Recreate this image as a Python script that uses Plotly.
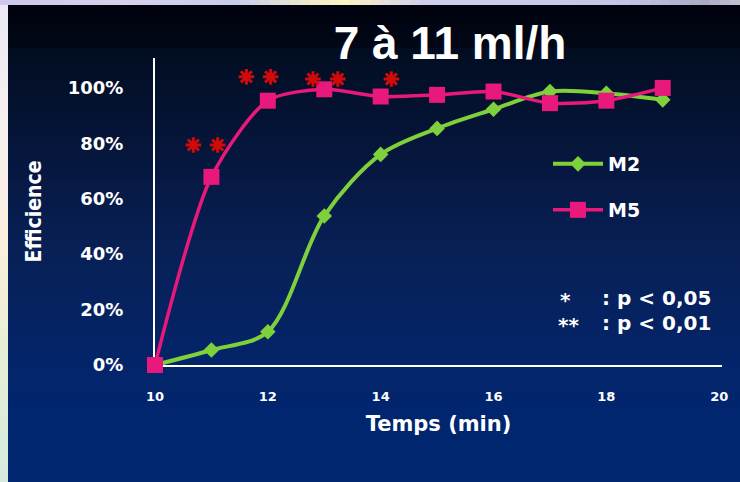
import plotly.graph_objects as go

# Efficiency over time for two methods (flow rate 7 to 11 ml/h)
temps_min = [10, 11, 12, 13, 14, 15, 16, 17, 18, 19]
m2_efficience = [0.0, 0.054, 0.12, 0.538, 0.76, 0.854, 0.923, 0.987, 0.981, 0.957]
m5_efficience = [0.0, 0.679, 0.954, 0.995, 0.969, 0.975, 0.987, 0.945, 0.954, 1.0]

# Significance asterisks (time, height)
sig_x = [10.68, 11.11, 11.62, 12.05, 12.8, 13.24, 14.19]
sig_y = [0.794, 0.794, 1.04, 1.04, 1.032, 1.032, 1.032]

x_ticks = [10, 12, 14, 16, 18, 20]
y_ticks = [0, 0.2, 0.4, 0.6, 0.8, 1.0]

W, H = 740, 482
GREEN = "#7fd13b"
PINK = "#e8197a"
STAR_RED = "#d10a0a"
BOLD_FONT = "DejaVu Sans"
NARROW_FONT = "Liberation Sans Narrow, DejaVu Sans Condensed, Roboto Condensed, Liberation Sans"


def px(x):
    return x / W


def py(y):
    return 1 - y / H


def lerp(c1, c2, t):
    return tuple(round(a + (b - a) * t) for a, b in zip(c1, c2))


def rgb(c):
    return "rgb(%d,%d,%d)" % c


shapes = []

# Dark header band
top_stops = [(5, (0, 3, 14)), (48, (2, 8, 24))]
# Main vertical gradient of the panel
stops = [(48, (2, 13, 33)), (150, (6, 22, 60)), (250, (8, 32, 86)),
         (350, (4, 36, 104)), (420, (0, 38, 112)), (482, (0, 38, 112))]


def add_gradient(stop_list, x0, x1, step=3):
    for (ya, ca), (yb, cb) in zip(stop_list[:-1], stop_list[1:]):
        y = ya
        while y < yb:
            y2 = min(y + step, yb)
            c = lerp(ca, cb, (y - ya) / (yb - ya))
            shapes.append(dict(type="rect", xref="paper", yref="paper",
                               x0=px(x0), x1=px(x1), y0=py(y2), y1=py(y),
                               fillcolor=rgb(c), line=dict(width=0), layer="below"))
            y = y2


add_gradient(top_stops, 8, W, step=4)
add_gradient(stops, 8, W, step=3)

# Light slide border on the left and the top
left_stops = [(0, (236, 232, 244)), (120, (246, 240, 240)), (250, (252, 238, 218)),
              (340, (232, 238, 214)), (482, (212, 234, 222))]
add_gradient(left_stops, 0, 8, step=6)
top_strip = [(0, (205, 200, 236)), (120, (214, 210, 236)), (230, (200, 204, 236)),
             (300, (236, 232, 206)), (340, (250, 244, 196)), (420, (208, 206, 236)),
             (620, (196, 196, 232)), (700, (170, 170, 196)), (740, (200, 198, 214))]
for (xa, ca), (xb, cb) in zip(top_strip[:-1], top_strip[1:]):
    x = xa
    while x < xb:
        x2 = min(x + 10, xb)
        c = lerp(ca, cb, (x - xa) / (xb - xa))
        shapes.append(dict(type="rect", xref="paper", yref="paper",
                           x0=px(x), x1=px(x2), y0=py(5), y1=1,
                           fillcolor=rgb(c), line=dict(width=0), layer="below"))
        x = x2

fig = go.Figure()

fig.add_trace(go.Scatter(
    x=temps_min, y=m2_efficience, name="M2", mode="lines+markers",
    line=dict(color=GREEN, width=4, shape="spline", smoothing=0.9),
    marker=dict(symbol="diamond", size=12, color=GREEN),
    legend="legend", cliponaxis=False,
))
fig.add_trace(go.Scatter(
    x=temps_min, y=m5_efficience, name="M5", mode="lines+markers",
    line=dict(color=PINK, width=3.5, shape="spline", smoothing=0.75),
    marker=dict(symbol="square", size=16, color=PINK),
    legend="legend2", cliponaxis=False,
))
fig.add_trace(go.Scatter(
    x=sig_x, y=sig_y, mode="markers", showlegend=False, hoverinfo="skip",
    cliponaxis=False,
    marker=dict(symbol="asterisk-open", size=13, color=STAR_RED,
                line=dict(color=STAR_RED, width=3)),
))

note_font = dict(family=BOLD_FONT, size=20, color="white", weight="bold")
annotations = [
    dict(text="*", x=px(558), y=py(300), xref="paper", yref="paper",
         xanchor="left", yanchor="middle", showarrow=False, font=note_font),
    dict(text=": p < 0,05", x=px(600), y=py(298), xref="paper", yref="paper",
         xanchor="left", yanchor="middle", showarrow=False, font=note_font),
    dict(text="**", x=px(556), y=py(325), xref="paper", yref="paper",
         xanchor="left", yanchor="middle", showarrow=False, font=note_font),
    dict(text=": p < 0,01", x=px(600), y=py(323), xref="paper", yref="paper",
         xanchor="left", yanchor="middle", showarrow=False, font=note_font),
]

legend_common = dict(
    xref="paper", yref="paper", xanchor="left", yanchor="middle",
    bgcolor="rgba(0,0,0,0)", borderwidth=0,
    font=dict(family=BOLD_FONT, size=19, color="white", weight="bold"),
    itemwidth=50,
)

fig.update_layout(
    width=W, height=H,
    margin=dict(l=0, r=0, t=0, b=0),
    paper_bgcolor=rgb((0, 38, 112)),
    plot_bgcolor="rgba(0,0,0,0)",
    shapes=shapes,
    annotations=annotations,
    title=dict(text="<b>7 à 11 ml/h</b>", x=px(450), y=py(43),
               xref="paper", yref="paper", xanchor="center", yanchor="middle",
               font=dict(family="Liberation Sans", size=46, color="white")),
    legend=dict(x=px(548), y=py(164), **legend_common),
    legend2=dict(x=px(548), y=py(210), **legend_common),
    xaxis=dict(
        domain=[px(155), px(722)], range=[10, 20.05],
        tickvals=x_ticks, ticktext=[str(v) for v in x_ticks],
        showgrid=False, zeroline=False, showline=True, linecolor="white",
        linewidth=2, ticks="", layer="below traces", ticklabelstandoff=18,
        tickfont=dict(family=BOLD_FONT, size=13, color="white", weight="bold"),
        title=dict(text="Temps (min)", standoff=14,
                   font=dict(family=BOLD_FONT, size=21, color="white",
                             weight="bold")),
        automargin=False,
    ),
    yaxis=dict(
        domain=[py(365), py(58)], range=[0, 1.108],
        tickvals=y_ticks, tickformat=".0%",
        showgrid=False, zeroline=False, showline=True, linecolor="white",
        linewidth=2, ticks="", layer="below traces", ticklabelstandoff=26,
        tickfont=dict(family=BOLD_FONT, size=18, color="white", weight="bold"),
        title=dict(text="Efficience", standoff=20,
                   font=dict(family=NARROW_FONT, size=21,
                             color="white", weight="bold")),
        automargin=False,
    ),
    showlegend=True,
)

fig.write_html("out.html")
